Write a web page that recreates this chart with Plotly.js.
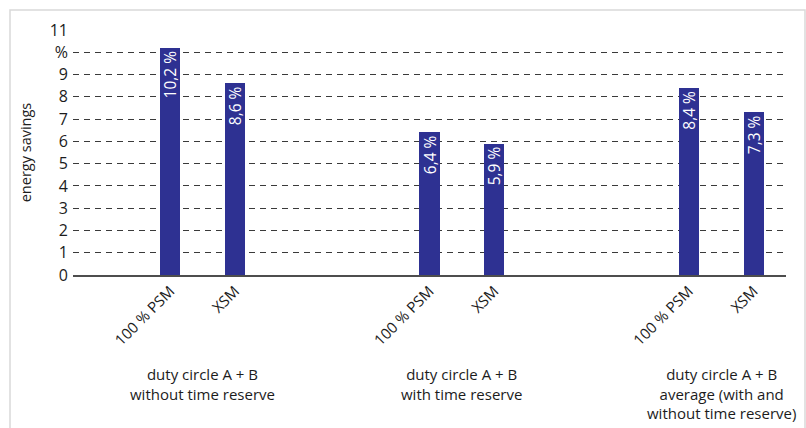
<!DOCTYPE html>
<html>
<head>
<meta charset="utf-8">
<script src="https://cdn.plot.ly/plotly-3.0.1.min.js"></script>
<style>
  html, body { margin: 0; padding: 0; background: #fff; }
  #chart { width: 806px; height: 428px; }
</style>
</head>
<body>
<div id="chart"></div>
<script>
// Energy savings per drive method, for three duty-cycle scenarios
const groupLabels = [
  'duty circle A + B<br>without time reserve',
  'duty circle A + B<br>with time reserve',
  'duty circle A + B<br>average (with and<br>without time reserve)'
];
const methodLabels = ['100 % PSM', 'XSM'];
const psmSavings = [10.2, 6.4, 8.4];
const xsmSavings = [8.6, 5.9, 7.3];
const yTickValues = [0, 1, 2, 3, 4, 5, 6, 7, 8, 9, 10, 11];
const yTickLabels = ['0', '1', '2', '3', '4', '5', '6', '7', '8', '9', '%', '11'];

const barColor = '#2e3192';
const textColor = '#1c1c1c';
const fontFamily = '"Open Sans", "Noto Sans", sans-serif';

// each group takes 4 slots on the x axis: two bars, then a gap
const slot = (g, m) => g * 4 + m;
const fmt = v => v.toFixed(1).replace('.', ',') + ' %';

const series = [psmSavings, xsmSavings];
const traces = series.map((vals, m) => ({
  type: 'bar',
  x: vals.map((_, g) => slot(g, m)),
  y: vals,
  width: 0.31,
  marker: { color: barColor, line: { width: 0 } },
  text: vals.map(fmt),
  textposition: 'inside',
  insidetextanchor: 'end',
  textangle: -90,
  constraintext: 'none',
  insidetextfont: { color: '#ffffff', size: 15.5, family: fontFamily },
  hoverinfo: 'skip',
  showlegend: false
}));

const tickVals = [];
const tickText = [];
groupLabels.forEach((_, g) => {
  methodLabels.forEach((lbl, m) => {
    tickVals.push(slot(g, m));
    tickText.push(lbl);
  });
});

const annotations = groupLabels.map((txt, g) => ({
  x: slot(g, 0) + 0.5,
  xref: 'x',
  y: -0.355,
  yref: 'paper',
  xanchor: 'center',
  yanchor: 'top',
  text: txt,
  showarrow: false,
  align: 'center',
  font: { size: 15, color: textColor, family: fontFamily }
}));

const layout = {
  width: 806,
  height: 428,
  margin: { l: 73, r: 20, t: 30, b: 153 },
  paper_bgcolor: '#ffffff',
  plot_bgcolor: '#ffffff',
  font: { family: fontFamily, color: textColor },
  bargap: 0,
  xaxis: {
    range: [-1.5, 9.5],
    tickmode: 'array',
    tickvals: tickVals,
    ticktext: tickText,
    tickangle: -45,
    ticks: '',
    showgrid: false,
    zeroline: false,
    showline: true,
    linecolor: '#4d4d4d',
    linewidth: 1.5,
    tickfont: { size: 15, color: textColor },
    fixedrange: true
  },
  yaxis: {
    range: [0, 11],
    tickmode: 'array',
    tickvals: yTickValues,
    ticktext: yTickLabels,
    ticks: '',
    ticklabelstandoff: 4,
    showgrid: true,
    gridcolor: '#3a3a3a',
    gridwidth: 1,
    griddash: '6px,5px',
    zeroline: false,
    showline: false,
    tickfont: { size: 16, color: textColor },
    title: { text: 'energy savings', font: { size: 14.5, color: textColor }, standoff: 14 },
    automargin: false,
    fixedrange: true
  },
  annotations: annotations,
  shapes: [{
    type: 'rect',
    xref: 'paper', yref: 'paper',
    x0: (10 - 73) / 713, x1: (805 - 73) / 713,
    y0: (275 - 440) / 245, y1: (275 - 10) / 245,
    line: { color: '#d9d9d9', width: 1.5 },
    fillcolor: 'rgba(0,0,0,0)',
    layer: 'below'
  }]
};

Plotly.newPlot('chart', traces, layout, { staticPlot: true, displayModeBar: false });
</script>
</body>
</html>
